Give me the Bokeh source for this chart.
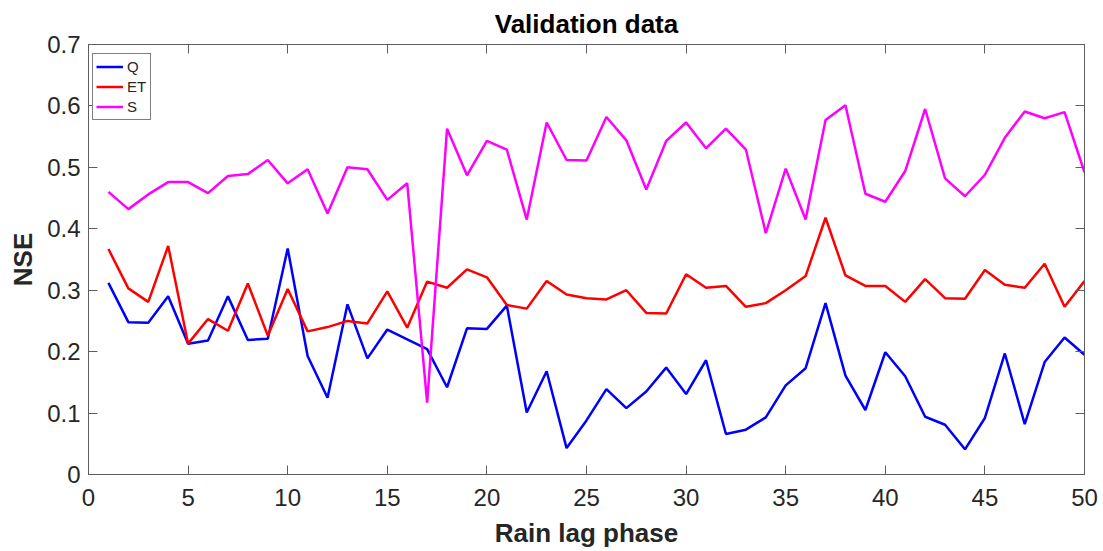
from bokeh.plotting import figure
from bokeh.models import Range1d, FixedTicker, LinearAxis, CustomJSTickFormatter, Legend, LegendItem
from bokeh.embed import file_html
from bokeh.resources import INLINE

# ---- data ----
lag = list(range(1, 51))
q_vals = [0.312, 0.248, 0.247, 0.290, 0.213, 0.218, 0.290, 0.219, 0.221, 0.368,
          0.193, 0.125, 0.277, 0.189, 0.236, 0.220, 0.204, 0.142, 0.238, 0.237,
          0.275, 0.101, 0.168, 0.043, 0.088, 0.139, 0.108, 0.135, 0.174, 0.131,
          0.186, 0.066, 0.073, 0.093, 0.145, 0.173, 0.279, 0.161, 0.105, 0.199,
          0.160, 0.094, 0.081, 0.041, 0.092, 0.197, 0.082, 0.183, 0.223, 0.195]
et_vals = [0.367, 0.303, 0.281, 0.372, 0.213, 0.253, 0.234, 0.311, 0.226, 0.302,
           0.233, 0.240, 0.250, 0.246, 0.298, 0.239, 0.314, 0.304, 0.334, 0.321,
           0.276, 0.270, 0.315, 0.293, 0.287, 0.285, 0.300, 0.263, 0.262, 0.326,
           0.304, 0.307, 0.273, 0.279, 0.300, 0.323, 0.418, 0.324, 0.307, 0.307,
           0.281, 0.318, 0.287, 0.286, 0.333, 0.309, 0.304, 0.343, 0.273, 0.315]
s_vals = [0.460, 0.432, 0.456, 0.476, 0.476, 0.458, 0.486, 0.489, 0.512, 0.474,
          0.497, 0.425, 0.500, 0.497, 0.447, 0.474, 0.117, 0.563, 0.487, 0.543,
          0.529, 0.415, 0.573, 0.512, 0.511, 0.582, 0.544, 0.464, 0.543, 0.573,
          0.531, 0.563, 0.529, 0.393, 0.498, 0.415, 0.577, 0.601, 0.457, 0.444,
          0.494, 0.595, 0.482, 0.453, 0.488, 0.548, 0.591, 0.580, 0.590, 0.492]
series_names = ["Q", "ET", "S"]
x_ticks = [0, 5, 10, 15, 20, 25, 30, 35, 40, 45, 50]
y_ticks = [0, 0.1, 0.2, 0.3, 0.4, 0.5, 0.6, 0.7]

FONT = "Liberation Sans"
AX = "#5e5e5e"
TXT = "#262626"

p = figure(width=1100, height=550, output_backend="svg", toolbar_location=None,
           x_range=Range1d(0, 50), y_range=Range1d(0, 0.7),
           min_border_left=88, min_border_right=16, min_border_top=43, min_border_bottom=75,
           title="Validation data")
p.title.align = "center"
p.title.text_font = FONT
p.title.text_font_size = "26px"
p.title.text_font_style = "bold"
p.title.text_color = "#000000"
p.title.standoff = 12

p.grid.visible = False
p.outline_line_color = AX
p.outline_line_width = 1
p.background_fill_color = "white"
p.border_fill_color = "white"

fmt = CustomJSTickFormatter(code="return tick.toFixed(1).replace(/\\.0$/, '');")
blank = CustomJSTickFormatter(code="return '';")

def style(ax, labels=True):
    ax.axis_line_color = AX
    ax.major_tick_line_color = AX
    ax.major_tick_in = 9
    ax.major_tick_out = 0
    ax.minor_tick_line_color = None
    ax.major_label_text_font = FONT
    ax.major_label_text_color = TXT
    if labels:
        ax.major_label_text_font_size = "24px"
    else:
        ax.formatter = blank
        ax.major_label_standoff = 0

p.xaxis.ticker = FixedTicker(ticks=x_ticks)
p.yaxis.ticker = FixedTicker(ticks=y_ticks)
p.yaxis.formatter = fmt
style(p.xaxis[0])
style(p.yaxis[0])
p.xaxis.major_label_standoff = 14
p.yaxis.major_label_standoff = 8
p.xaxis.axis_label = "Rain lag phase"
p.yaxis.axis_label = "NSE"
for ax in (p.xaxis[0], p.yaxis[0]):
    ax.axis_label_text_font = FONT
    ax.axis_label_text_font_size = "26px"
    ax.axis_label_text_font_style = "bold"
    ax.axis_label_text_color = TXT
p.xaxis.axis_label_standoff = 9
p.yaxis.axis_label_standoff = 6

top_ax = LinearAxis(ticker=FixedTicker(ticks=x_ticks))
right_ax = LinearAxis(ticker=FixedTicker(ticks=y_ticks))
style(top_ax, labels=False)
style(right_ax, labels=False)
p.add_layout(top_ax, "above")
p.add_layout(right_ax, "right")

colors = ["#0000ff", "#ff0000", "#ff00ff"]
rs = []
for vals, c in zip([q_vals, et_vals, s_vals], colors):
    rs.append(p.line(lag, vals, line_color=c, line_width=2.5))

legend = Legend(items=[LegendItem(label=n, renderers=[r]) for n, r in zip(series_names, rs)],
                location=(4, 354))
legend.margin = 0
legend.padding = 3
legend.spacing = 1
legend.glyph_width = 27
legend.glyph_height = 19
legend.label_height = 19
legend.label_standoff = 4
legend.label_text_font = FONT
legend.label_text_font_size = "15px"
legend.label_text_color = TXT
legend.border_line_color = "#000000"
legend.border_line_width = 1
legend.background_fill_alpha = 1
p.add_layout(legend, "center")

open("out.html", "w").write(file_html(p, INLINE))
